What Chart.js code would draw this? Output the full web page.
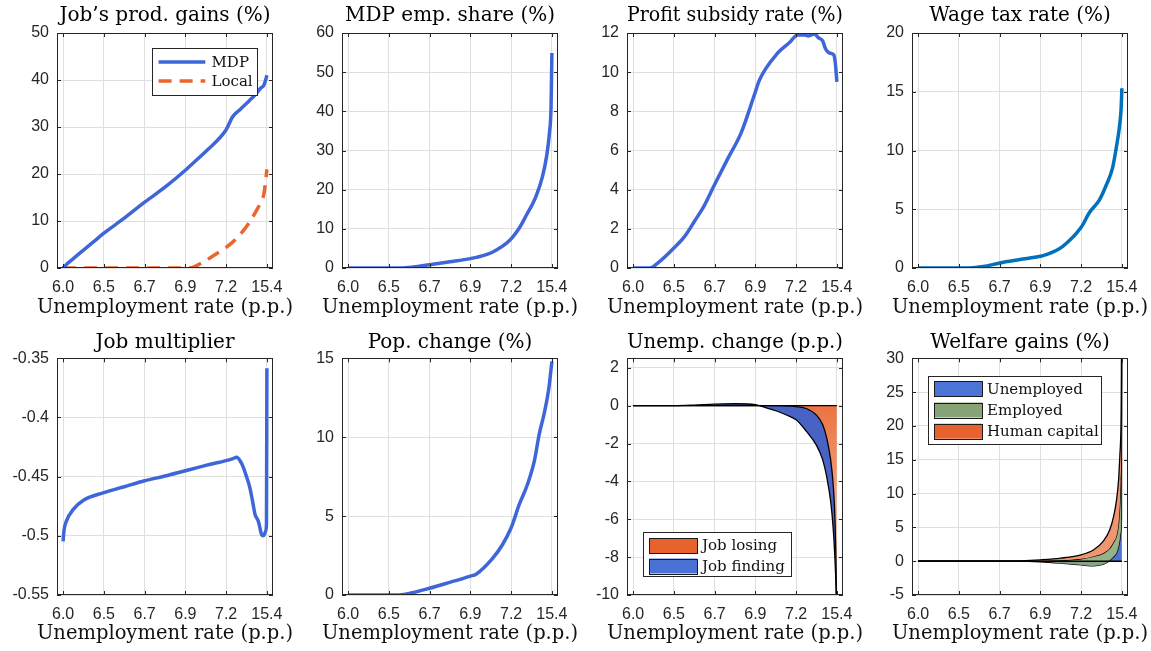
<!DOCTYPE html>
<html><head><meta charset="utf-8">
<script src="https://cdn.jsdelivr.net/npm/chart.js@4.4.1/dist/chart.umd.min.js"></script>
<style>
html,body{margin:0;padding:0;background:#fff;width:1151px;height:651px;overflow:hidden;position:relative}
canvas{position:absolute}
</style></head><body>
<script>
// ---------- data ----------
const xTickLabels = ['6.0','6.5','6.7','6.9','7.2','15.4'];
const xAxisLabel = 'Unemployment rate (p.p.)';
const titles = ['Job\u2019s prod. gains (%)','MDP emp. share (%)','Profit subsidy rate (%)','Wage tax rate (%)',
                'Job multiplier','Pop. change (%)','Unemp. change (p.p.)','Welfare gains (%)'];

const prodX     = [0,0.1,0.25,0.5,0.75,1,1.5,2,2.5,3,3.1,3.3,3.5,4,4.16,4.35,4.57,4.73,4.85,4.92,4.97,5];
const prodMDP   = [0,0.9,2.0,3.8,5.6,7.4,10.6,14.0,17.2,20.8,21.6,23.2,24.8,29.4,32.2,33.8,35.6,37.0,38.3,38.8,40.0,41.0];
const prodLocal = [0,0,0,0,0,0,0,0,0,0,0,0.6,1.6,4.4,5.5,7.2,9.7,12.0,14.0,15.5,18.5,21.0];

const empX     = [0,0.5,1,1.3,1.6,2,2.5,3,3.14,3.55,3.96,4.2,4.36,4.61,4.77,4.87,4.94,4.98,5];
const empShare = [0,0,0,0,0.25,0.85,1.6,2.4,2.7,4.1,7.0,10.2,13.2,18.3,23.4,28.5,34.5,41.3,54.9];

const subX    = [0,0.41,0.61,1.0,1.26,1.51,1.75,2.0,2.32,2.65,2.98,3.1,3.55,3.83,4.04,4.2,4.3,4.45,4.55,4.65,4.72,4.8,4.86,4.92,4.96,5];
const subsidy = [0,0,0.26,1.02,1.6,2.4,3.2,4.26,5.57,6.9,8.87,9.6,10.98,11.5,11.9,11.9,11.85,11.95,11.75,11.6,11.2,11.0,10.95,10.9,10.5,9.5];

const taxX    = [0,0.5,1,1.26,1.6,2,2.5,3,3.14,3.55,4,4.2,4.45,4.61,4.77,4.87,4.94,4.98,5];
const wageTax = [0,0,0,0,0.12,0.43,0.72,1.0,1.13,1.85,3.46,4.7,5.8,7.0,8.5,10.4,12.0,13.5,15.3];

const multX   = [0,0.02,0.08,0.25,0.5,1,1.5,2,2.5,3,3.5,4,4.15,4.26,4.35,4.42,4.5,4.58,4.65,4.71,4.79,4.87,4.91,4.95,4.97,4.99,5];
const jobMult = [-0.5046,-0.496,-0.4876,-0.4777,-0.47,-0.4635,-0.4585,-0.4535,-0.4495,-0.445,-0.4405,-0.4365,-0.435,-0.4337,-0.437,-0.442,-0.45,-0.459,-0.471,-0.482,-0.4876,-0.499,-0.5,-0.498,-0.496,-0.49,-0.3585];

const popX      = [0,0.5,1,1.18,1.5,2,2.49,3,3.14,3.55,3.79,4,4.2,4.4,4.57,4.69,4.81,4.92,5];
const popChange = [0,0,0,0,0.1,0.43,0.8,1.2,1.32,2.34,3.2,4.26,5.74,7.0,8.5,10.2,11.5,13.0,14.8];

const unempX     = [0,1,1.5,2,2.5,3,3.25,3.5,3.75,4,4.25,4.5,4.65,4.75,4.85,4.91,4.95,4.98,5];
const jobLosing  = [0,0,0,0,0,0,0,0,-0.01,-0.05,-0.15,-0.5,-1.0,-1.7,-2.9,-4.2,-5.8,-8.5,-12];
const jobFinding = [0,0,0.03,0.08,0.1,0.05,-0.1,-0.27,-0.47,-0.7,-1.2,-1.6,-1.85,-2.05,-2.2,-2.3,-2.2,-1.2,0];

const welfX      = [0,1,2,2.5,3,3.5,4,4.3,4.55,4.7,4.8,4.87,4.92,4.95,4.97,4.99,5];
const welfUnemp  = [0,0,0,0,-0.1,-0.3,-0.55,-0.7,-0.45,0.1,0.7,1.2,2.2,3.2,4.2,6,50];
const welfEmp    = [0,0,0,0.02,0.15,0.42,0.9,1.4,1.65,1.8,2.2,2.6,3.5,5.3,7.8,16,10];
const welfHC     = [0,0,0,0.03,0.15,0.33,0.59,0.95,1.8,2.7,3.8,5.3,6.4,7.1,6.1,6,10];

// ---------- helpers ----------
const SERIF = '"DejaVu Serif", serif';
const SANS = '"Liberation Sans", Arial, sans-serif';
const BLUE = '#3e66d9';
const pts = (xs, ys) => xs.map((x, i) => ({x, y: ys[i]}));
const cum = (...arrs) => arrs[0].map((_, i) => arrs.reduce((s, a) => s + a[i], 0));

const matlabBox = {
  id: 'matlabBox',
  beforeDraw(chart) {
    const s = chart.scales.x;
    if (s && !s._wide) {
      const orig = s.drawTitle;
      // the axis label is wider than the plot box: do not squeeze it to the box width
      s.drawTitle = function () {
        const l = this.left, r = this.right;
        this.left = l - 60; this.right = r + 60;
        try { orig.call(this); } finally { this.left = l; this.right = r; }
      };
      s._wide = true;
    }
  },
  afterDatasetsDraw(chart, args, o) {
    const {ctx, chartArea: a, scales: {x, y}} = chart;
    ctx.save();
    if (o && o.baseline) {
      const py = y.getPixelForValue(0);
      ctx.strokeStyle = '#000'; ctx.lineWidth = 1.4;
      ctx.beginPath(); ctx.moveTo(x.getPixelForValue(0), py); ctx.lineTo(x.getPixelForValue(5), py); ctx.stroke();
    }
    ctx.strokeStyle = '#262626'; ctx.lineWidth = 1;
    ctx.strokeRect(Math.round(a.left) + 0.5, Math.round(a.top) + 0.5, Math.round(a.width) - 1, Math.round(a.height) - 1);
    const L = 4;
    ctx.beginPath();
    x.ticks.forEach((t, i) => {
      const px = Math.round(x.getPixelForTick(i)) + 0.5;
      ctx.moveTo(px, a.bottom); ctx.lineTo(px, a.bottom - L);
      ctx.moveTo(px, a.top); ctx.lineTo(px, a.top + L);
    });
    y.ticks.forEach((t, i) => {
      const py = Math.round(y.getPixelForTick(i)) + 0.5;
      ctx.moveTo(a.left, py); ctx.lineTo(a.left + L, py);
      ctx.moveTo(a.right, py); ctx.lineTo(a.right - L, py);
    });
    ctx.stroke();
    ctx.restore();
  }
};

const boxLegend = {
  id: 'boxLegend',
  afterDraw(chart, args, o) {
    if (!o || !o.show) return;
    const a = chart.chartArea, ctx = chart.ctx;
    const x0 = Math.round(a.left + o.left), y0 = Math.round(a.top + o.top);
    ctx.save();
    ctx.fillStyle = '#fff'; ctx.fillRect(x0, y0, o.width, o.height);
    ctx.strokeStyle = '#262626'; ctx.lineWidth = 1; ctx.strokeRect(x0 + 0.5, y0 + 0.5, o.width, o.height);
    chart.data.datasets.forEach((d, i) => {
      const cy = y0 + o.firstRow + i * o.rowStep;
      if (o.kind === 'line') {
        ctx.strokeStyle = d.borderColor; ctx.lineWidth = 3.5; ctx.setLineDash(d.borderDash || []);
        ctx.beginPath(); ctx.moveTo(x0 + o.sx0, cy); ctx.lineTo(x0 + o.sx1, cy); ctx.stroke();
        ctx.setLineDash([]);
      } else {
        ctx.fillStyle = d.legendColor;
        ctx.fillRect(x0 + o.sx0, cy - o.sh / 2, o.sx1 - o.sx0, o.sh);
        ctx.strokeStyle = '#1a1a1a'; ctx.lineWidth = 1;
        ctx.strokeRect(x0 + o.sx0 + 0.5, Math.round(cy - o.sh / 2) + 0.5, o.sx1 - o.sx0, o.sh);
      }
      ctx.fillStyle = '#111'; ctx.font = '15px ' + SERIF; ctx.textBaseline = 'middle'; ctx.textAlign = 'left';
      ctx.fillText(d.label, x0 + o.tx, cy + 1);
    });
    ctx.restore();
  }
};

const LEFT_IN = 72;   // y-axis band width inside each canvas
function makePanel(idx, datasets, y, legend, baseline) {
  const col = idx % 4, row = Math.floor(idx / 4);
  const cv = document.createElement('canvas');
  const W = 315, H = row === 0 ? 325 : 326;
  cv.width = W; cv.height = H;
  cv.style.left = (col * 285 + 57 - LEFT_IN) + 'px'; cv.style.top = (row * 325) + 'px';
  cv.style.width = W + 'px'; cv.style.height = H + 'px';
  document.body.appendChild(cv);
  const xAxisH = row === 0 ? 57 : 56;
  const tTop = row === 0 ? 4 : 5.5, tBot = row === 0 ? 5 : 3.8;
  new Chart(cv, {
    type: 'line',
    data: {datasets},
    options: {
      responsive: false, animation: false, devicePixelRatio: 1,
      layout: {padding: {left: 0, right: W - LEFT_IN - 216, top: 0, bottom: 0}},
      elements: {point: {radius: 0}, line: {tension: 0}},
      plugins: {
        legend: {display: false}, tooltip: {enabled: false},
        title: {display: true, fullSize: false, text: titles[idx], color: '#000',
                font: {family: SERIF, size: 20, weight: 'normal'}, padding: {top: tTop, bottom: tBot}},
        matlabBox: {baseline: !!baseline},
        boxLegend: legend || {show: false},
        filler: {propagate: false}
      },
      scales: {
        x: {type: 'linear', min: -0.15, max: 5.15,
            afterFit: s => { s.height = xAxisH; },
            ticks: {stepSize: 1, includeBounds: false, autoSkip: false, maxRotation: 0, padding: 10,
                    color: '#262626', font: {family: SANS, size: 16},
                    callback: v => xTickLabels[Math.round(v)]},
            grid: {color: '#dfdfdf', drawTicks: false}, border: {display: false},
            title: {display: true, text: xAxisLabel, color: '#111',
                    font: {family: SERIF, size: 19.5}, padding: {top: 0, bottom: 5.3}}},
        y: {type: 'linear', min: y.min, max: y.max,
            afterFit: s => { s.width = LEFT_IN; },
            ticks: {stepSize: y.step, includeBounds: false, padding: 8, color: '#262626',
                    font: {family: SANS, size: 16},
                    callback: v => String(Math.round(v * 1000) / 1000)},
            grid: {color: '#dfdfdf', drawTicks: false}, border: {display: false}}
      }
    },
    plugins: [matlabBox, boxLegend]
  });
}

const lineDs = (label, xs, ys, color, extra) => Object.assign({
  label, data: pts(xs, ys), borderColor: color, borderWidth: 3.5, fill: false,
  cubicInterpolationMode: 'monotone', borderJoinStyle: 'round', borderCapStyle: 'butt'
}, extra || {});

// Panel 1
makePanel(0, [
  lineDs('MDP', prodX, prodMDP, BLUE),
  lineDs('Local', prodX, prodLocal, '#ea6630', {borderDash: [13, 8]})
], {min: 0, max: 50, step: 10},
{show: true, kind: 'line', left: 94.5, top: 14.7, width: 105, height: 47, firstRow: 14, rowStep: 19, sx0: 6.6, sx1: 53.3, tx: 59.5});

// Panel 2
makePanel(1, [lineDs('MDP emp. share', empX, empShare, BLUE)], {min: 0, max: 60, step: 10});
// Panel 3
makePanel(2, [lineDs('Profit subsidy rate', subX, subsidy, BLUE)], {min: 0, max: 12, step: 2});
// Panel 4
makePanel(3, [lineDs('Wage tax rate', taxX, wageTax, '#0072bd')], {min: 0, max: 20, step: 5});
// Panel 5
makePanel(4, [lineDs('Job multiplier', multX, jobMult, BLUE)], {min: -0.55, max: -0.35, step: 0.05});
// Panel 6
makePanel(5, [lineDs('Pop. change', popX, popChange, BLUE)], {min: 0, max: 15, step: 5});

// Panel 7 (stacked areas)
const orangeGrad = c => {
  const ch = c.chart; const a = ch.chartArea;
  if (!a) return '#ef8d62';
  const ys = ch.scales.y;
  const g = ch.ctx.createLinearGradient(0, ys.getPixelForValue(0), 0, ys.getPixelForValue(-7));
  g.addColorStop(0, '#eb7340'); g.addColorStop(1, '#f6b698');
  return g;
};
makePanel(6, [
  {label: 'Job losing', data: pts(unempX, cum(jobLosing)), borderColor: '#000', borderWidth: 1.3,
   backgroundColor: orangeGrad, legendColor: '#e8622e', fill: 'origin', cubicInterpolationMode: 'monotone', clip: 0},
  {label: 'Job finding', data: pts(unempX, cum(jobLosing, jobFinding)), borderColor: '#000', borderWidth: 1.3,
   backgroundColor: '#4862c6', legendColor: '#4a72d4', fill: '-1', cubicInterpolationMode: 'monotone', clip: 0}
], {min: -10, max: 2.5, step: 2},
{show: true, kind: 'patch', left: 16, top: 173.5, width: 148, height: 44, firstRow: 13.5, rowStep: 20.5, sh: 15, sx0: 6, sx1: 54, tx: 59},
true);

// Panel 8 (stacked areas)
makePanel(7, [
  {label: 'Unemployed', data: pts(welfX, cum(welfUnemp)), borderColor: '#000', borderWidth: 1.3, order: 3,
   backgroundColor: '#4a74d6', legendColor: '#4a74d6', fill: 'origin', cubicInterpolationMode: 'monotone', clip: 0},
  {label: 'Employed', data: pts(welfX, cum(welfUnemp, welfEmp)), borderColor: '#000', borderWidth: 1.3, order: 2,
   backgroundColor: 'rgba(140,168,124,0.9)', legendColor: '#86a277', fill: '-1', cubicInterpolationMode: 'monotone', clip: 0},
  {label: 'Human capital', data: pts(welfX, cum(welfUnemp, welfEmp, welfHC)), borderColor: '#000', borderWidth: 1.3, order: 1,
   backgroundColor: '#ef9670', legendColor: '#e8622e', fill: '-1', cubicInterpolationMode: 'monotone', clip: 0}
], {min: -5, max: 30, step: 5},
{show: true, kind: 'patch', left: 16, top: 17.5, width: 173, height: 68, firstRow: 12.8, rowStep: 21.2, sh: 15, sx0: 6, sx1: 54, tx: 59},
true);
</script>
</body></html>
